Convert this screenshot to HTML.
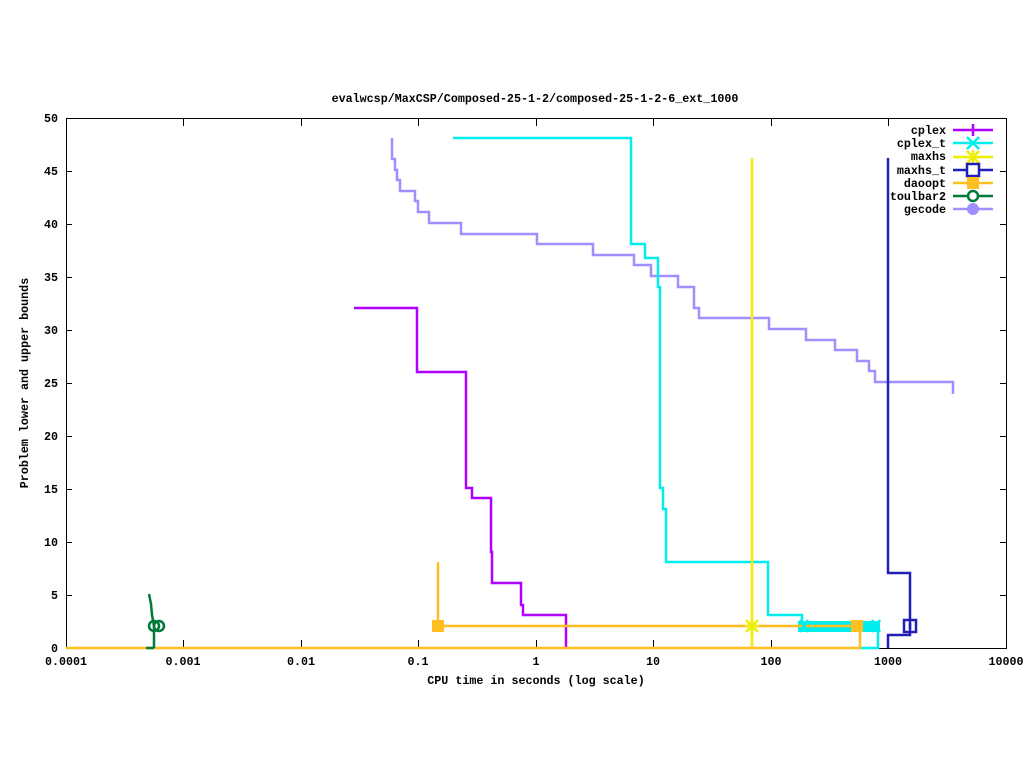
<!DOCTYPE html><html><head><style>body{margin:0;background:#fff}svg{display:block}text{font-family:"Liberation Mono",monospace;font-size:11.7px;font-weight:bold}</style></head><body>
<svg width="1024" height="768" xmlns="http://www.w3.org/2000/svg">
<text x="535" y="102" text-anchor="middle">evalwcsp/MaxCSP/Composed-25-1-2/composed-25-1-2-6_ext_1000</text>
<g stroke="#000" stroke-width="1" fill="none">
<rect x="66.5" y="118.5" width="940" height="530"/>
<path d="M66 595.5h6M1006 595.5h-6M66 542.5h6M1006 542.5h-6M66 489.5h6M1006 489.5h-6M66 436.5h6M1006 436.5h-6M66 383.5h6M1006 383.5h-6M66 330.5h6M1006 330.5h-6M66 277.5h6M1006 277.5h-6M66 224.5h6M1006 224.5h-6M66 171.5h6M1006 171.5h-6"/>
<path d="M183.5 648v-8M301.5 648v-8M418.5 648v-8M536.5 648v-8M653.5 648v-8M771.5 648v-8M888.5 648v-8M183.5 118v8M301.5 118v8M418.5 118v8M536.5 118v8M653.5 118v8M771.5 118v8M888.5 118v8"/>
</g>
<g text-anchor="end">
<text x="58" y="652">0</text><text x="58" y="599">5</text><text x="58" y="546">10</text><text x="58" y="493">15</text><text x="58" y="440">20</text><text x="58" y="387">25</text><text x="58" y="334">30</text><text x="58" y="281">35</text><text x="58" y="228">40</text><text x="58" y="175">45</text><text x="58" y="122">50</text>
</g>
<g text-anchor="middle">
<text x="66" y="665">0.0001</text><text x="183" y="665">0.001</text><text x="301" y="665">0.01</text><text x="418" y="665">0.1</text><text x="536" y="665">1</text><text x="653" y="665">10</text><text x="771" y="665">100</text><text x="888" y="665">1000</text><text x="1006" y="665">10000</text>
<text x="536" y="684">CPU time in seconds (log scale)</text>
</g>
<text transform="translate(28,383) rotate(-90)" text-anchor="middle">Problem lower and upper bounds</text>
<g fill="none" stroke-width="2.5">
<path stroke="#9f8fff" d="M392 138V159H395V170H397V180H400V191H415V201H418V212H429V223H461V234H537V244H593V255H634V265H651V276H678V287H694V308H699V318H769V329H806V340H835V350H857V361H869V371H875V382H953V394"/>
<path stroke="#b000ff" d="M354 308H417V372H466V488H472V498H491V552H492V583H521V605H523V615H566V648"/>
<path stroke="#00eeee" d="M453 138H631V244H645V258H658V287H660V488H663V509H666V562H768V615H802V621M860 648H878V630"/>
<rect x="798" y="621" width="82" height="11" fill="#00eeee" stroke="none"/>
<path stroke="#eeee00" d="M752 158V648"/>
<path stroke="#2020b8" d="M888 158V573H910V635H888V648"/>
<path stroke="#ffbf20" d="M66 648H860V626H438V562"/>
<path stroke="#007a3a" d="M149 594L151 604L152 615L154 626V648M146 648H154"/>
</g>
<g stroke-width="2.5" fill="none">
<path stroke="#eeee00" d="M746 620l12 12M758 620l-12 12M752 618v16M745 626h14"/>
<rect x="904" y="620" width="12" height="12" stroke="#2020b8"/><path d="M910 623v6" stroke="#2020b8"/>
<rect x="432" y="620" width="12" height="12" fill="#ffbf20" stroke="none"/>
<rect x="851" y="620" width="12" height="12" fill="#ffbf20" stroke="none"/>
<circle cx="154" cy="626" r="5" stroke="#007a3a"/><circle cx="159" cy="626" r="5" stroke="#007a3a"/>
<path stroke="#00eeee" d="M800 620l8 12M808 620l-8 12M872 620l8 12M880 620l-8 12"/>
</g>
<g text-anchor="end">
<text x="946" y="134">cplex</text><text x="946" y="147">cplex_t</text><text x="946" y="160">maxhs</text><text x="946" y="174">maxhs_t</text><text x="946" y="187">daoopt</text><text x="946" y="200">toulbar2</text><text x="946" y="213">gecode</text>
</g>
<g stroke-width="2.5" fill="none">
<path stroke="#b000ff" d="M953 130h40M973 124v12"/>
<path stroke="#00eeee" d="M953 143h40M967 137l12 12M979 137l-12 12"/>
<path stroke="#eeee00" d="M953 157h40M967 151l12 12M979 151l-12 12M973 150v14"/>
<path stroke="#2020b8" d="M953 170h40"/><rect x="967" y="164" width="12" height="12" stroke="#2020b8" fill="#fff"/>
<path stroke="#ffbf20" d="M953 183h40"/><rect x="967" y="177" width="12" height="12" fill="#ffbf20" stroke="none"/>
<path stroke="#007a3a" d="M953 196h40"/><circle cx="973" cy="196" r="5" stroke="#007a3a" fill="#fff"/>
<path stroke="#9f8fff" d="M953 209h40"/><circle cx="973" cy="209" r="6" fill="#9f8fff" stroke="none"/>
</g>
</svg></body></html>
